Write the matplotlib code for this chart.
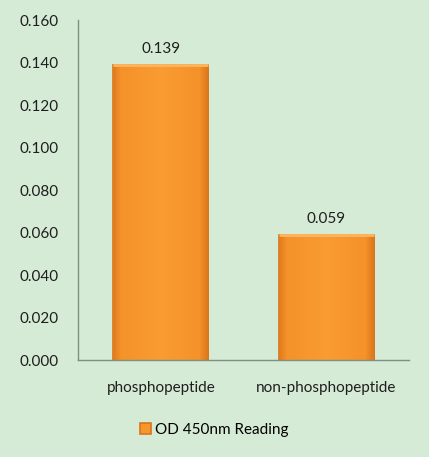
import matplotlib
matplotlib.use('Agg')
import matplotlib.pyplot as plt
import numpy as np
from matplotlib.colors import LinearSegmentedColormap

plt.rcParams['font.family'] = ['Lato', 'DejaVu Sans']

categories = ['phosphopeptide', 'non-phosphopeptide']
od_values = [0.139, 0.059]
value_labels = ['0.139', '0.059']
y_ticks = [0.000, 0.020, 0.040, 0.060, 0.080, 0.100, 0.120, 0.140, 0.160]
series_name = 'OD 450nm Reading'

bg = '#D5EBD6'
fig = plt.figure(figsize=(4.29, 4.57), dpi=100, facecolor=bg)
ax = fig.add_axes([0.182, 0.212, 0.771, 0.744], facecolor=bg)

x = range(len(categories))
bars = ax.bar(x, od_values, width=0.575, color='#F7962A', edgecolor='#D9741E',
              linewidth=1.2, label=series_name)

# mild horizontal shading, darker only near the bar edges
shade = LinearSegmentedColormap.from_list(
    'shade', [(0, '#E07A1E'), (0.08, '#F5922A'), (0.5, '#F99C32'),
              (0.9, '#F5922A'), (1, '#DA741C')])
grad = np.linspace(0, 1, 256).reshape(1, -1)
for b in bars:
    bx, by = b.get_x(), b.get_y()
    im = ax.imshow(grad, cmap=shade, aspect='auto', zorder=b.get_zorder() + 0.1,
                   extent=[bx, bx + b.get_width(), by, by + b.get_height()])
    im.set_clip_path(b)
    top = by + b.get_height()
    ax.plot([bx, bx + b.get_width()], [top, top], color='#FCB65E', lw=2,
            zorder=b.get_zorder() + 0.2, solid_capstyle='butt')

for xi, v, lab in zip(x, od_values, value_labels):
    ax.text(xi, v + 0.004, lab, ha='center', va='bottom', fontsize=11, color='#1E1E1E')

ax.set_xlim(-0.5, 1.5)
ax.set_ylim(0, 0.16)
ax.set_yticks(y_ticks)
ax.set_yticklabels(['%.3f' % t for t in y_ticks])
ax.set_xticks(list(x))
ax.set_xticklabels(categories)
ax.tick_params(axis='both', length=0, labelsize=11, colors='#1E1E1E')
ax.tick_params(axis='y', pad=14)
ax.tick_params(axis='x', pad=15)

for s in ['top', 'right']:
    ax.spines[s].set_visible(False)
for s in ['left', 'bottom']:
    ax.spines[s].set_color('#7F8F80')
    ax.spines[s].set_linewidth(1)

fig.legend(handles=[bars], labels=[series_name], loc='center', bbox_to_anchor=(0.5, 0.06),
           frameon=False, fontsize=11, handlelength=0.7, handleheight=0.7, handletextpad=0.3)

fig.savefig('out.png', dpi=100, facecolor=bg)
